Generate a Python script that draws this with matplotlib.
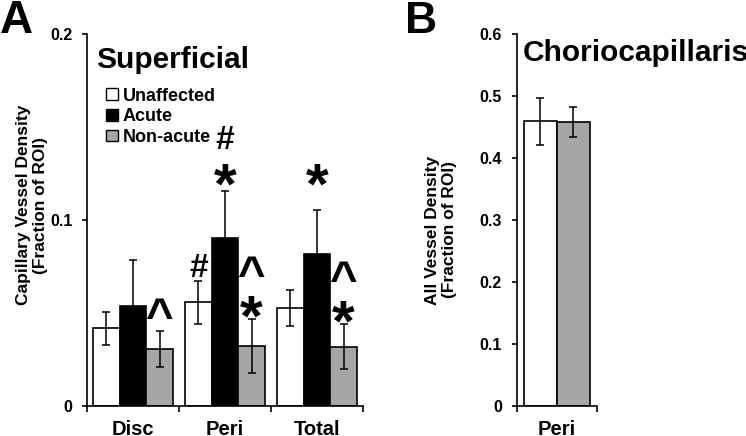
import numpy as np
import matplotlib
matplotlib.use("Agg")
import matplotlib.pyplot as plt
from matplotlib.patches import Patch

plt.rcParams["font.family"] = ["Liberation Sans", "DejaVu Sans"]
plt.rcParams["font.weight"] = "bold"

# Panel A: superficial capillary vessel density
regions = ["Disc", "Peri", "Total"]
groups = ["Unaffected", "Acute", "Non-acute"]
colors = ["white", "black", "#a6a6a6"]
sup_mean = {
    "Unaffected": [0.0416, 0.0556, 0.0524],
    "Acute": [0.0536, 0.0902, 0.0814],
    "Non-acute": [0.0306, 0.0321, 0.0317],
}
sup_err = {
    "Unaffected": [0.0090, 0.0115, 0.0097],
    "Acute": [0.0247, 0.0254, 0.0238],
    "Non-acute": [0.0098, 0.0143, 0.0120],
}
# significance marks: (region index, group index, symbol, glyph centre y)
marks = [
    (0, 2, "^", 0.054),
    (1, 0, "#", 0.0756),
    (1, 1, "#", 0.1445),
    (1, 1, "*", 0.125),
    (1, 2, "^", 0.0767),
    (1, 2, "*", 0.054),
    (2, 1, "*", 0.125),
    (2, 2, "^", 0.074),
    (2, 2, "*", 0.0515),
]

# Panel B: choriocapillaris
chorio_groups = ["Unaffected", "Non-acute"]
chorio_mean = [0.4586, 0.4575]
chorio_err = [0.038, 0.0245]

W, H = 746, 436
fig = plt.figure(figsize=(W / 100, H / 100), dpi=100)

axA = fig.add_axes([87 / W, 1 - 405.7 / H, 276 / W, 372 / H])
axB = fig.add_axes([516.7 / W, 1 - 405.7 / H, 80 / W, 372 / H])

bw = 0.29
x = np.arange(len(regions))
for i, g in enumerate(groups):
    axA.bar(x + (i - 1) * bw, sup_mean[g], bw, color=colors[i],
            edgecolor="black", linewidth=1.2, label=g, zorder=2)
    axA.errorbar(x + (i - 1) * bw, sup_mean[g], yerr=sup_err[g], fmt="none",
                 ecolor="black", elinewidth=1.1, capsize=3, capthick=1.1, zorder=3)

# glyph centre offsets (fraction of font size above baseline)
glyph_mid = {"*": 0.52, "^": 0.55, "#": 0.36}
mark_fs = {"*": 42, "^": 34, "#": 24}
for r, gi, sym, yc in marks:
    fs = mark_fs[sym]
    axA.annotate(sym, xy=(r + (gi - 1) * bw, yc), xytext=(0, -glyph_mid[sym] * fs),
                 textcoords="offset points", ha="center", va="baseline",
                 fontsize=fs, fontweight="bold")

axA.set_xlim(-0.5, 2.5)
axA.set_ylim(0, 0.2)
axA.set_yticks([0, 0.1, 0.2])
axA.set_yticklabels(["0", "0.1", "0.2"])
axA.set_xticks([-0.5, 0.5, 1.5, 2.5])
axA.set_xticklabels([])
axA.set_xticks(x, minor=True)
axA.set_xticklabels(regions, minor=True, fontsize=14.5, fontweight="bold")
axA.tick_params(axis="x", which="minor", length=0, pad=10)
axA.tick_params(axis="x", which="major", length=4.5, width=1.2, direction="out")
axA.tick_params(axis="y", length=3.5, width=1.2, labelsize=11.5, pad=7)
for s in ["top", "right"]:
    axA.spines[s].set_visible(False)
for s in ["left", "bottom"]:
    axA.spines[s].set_linewidth(1.2)

axA.text(0.033, 0.928, "Superficial", transform=axA.transAxes, ha="left",
         va="center", fontsize=21.5, fontweight="bold")
handles = [Patch(facecolor=c, edgecolor="black", linewidth=1) for c in colors]
axA.legend(handles, groups, loc="upper left", bbox_to_anchor=(0.07, 0.855),
           frameon=False, fontsize=13, handlelength=0.62, handleheight=0.62,
           handletextpad=0.3, labelspacing=0.2, borderpad=0, borderaxespad=0)

fig.text(32 / W, 1 - 205 / H, "Capillary Vessel Density\n(Fraction of ROI)",
         rotation=90, ha="center", va="center", multialignment="center",
         fontsize=12.5, fontweight="bold", linespacing=1.1)

# Panel B
bwB = 0.41
xb = np.array([-0.5, 0.5]) * bwB
axB.bar(xb, chorio_mean, bwB, color=[colors[0], colors[2]], edgecolor="black",
        linewidth=1.2, zorder=2)
axB.errorbar(xb, chorio_mean, yerr=chorio_err, fmt="none", ecolor="black",
             elinewidth=1.1, capsize=3, capthick=1.1, zorder=3)
axB.set_xlim(-0.5, 0.5)
axB.set_ylim(0, 0.6)
axB.set_yticks(np.arange(0, 0.61, 0.1))
axB.set_yticklabels(["0", "0.1", "0.2", "0.3", "0.4", "0.5", "0.6"])
axB.set_xticks([-0.5, 0.5])
axB.set_xticklabels([])
axB.set_xticks([0], minor=True)
axB.set_xticklabels(["Peri"], minor=True, fontsize=14.5, fontweight="bold")
axB.tick_params(axis="x", which="minor", length=0, pad=10)
axB.tick_params(axis="x", which="major", length=4.5, width=1.2, direction="out")
axB.tick_params(axis="y", length=3.5, width=1.2, labelsize=11.5, pad=7)
for s in ["top", "right"]:
    axB.spines[s].set_visible(False)
for s in ["left", "bottom"]:
    axB.spines[s].set_linewidth(1.2)
axB.text(0.075, 0.948, "Choriocapillaris", transform=axB.transAxes, ha="left",
         va="center", fontsize=21.5, fontweight="bold", clip_on=False)

fig.text(441 / W, 1 - 230 / H, "All Vessel Density\n(Fraction of ROI)",
         rotation=90, ha="center", va="center", multialignment="center",
         fontsize=12.5, fontweight="bold", linespacing=1.15)

fig.text(0 / W, 1 - 33 / H, "A", ha="left", va="baseline", fontsize=33, fontweight="bold")
fig.text(405 / W, 1 - 33 / H, "B", ha="left", va="baseline", fontsize=32, fontweight="bold")

fig.savefig("out.png", dpi=100)
